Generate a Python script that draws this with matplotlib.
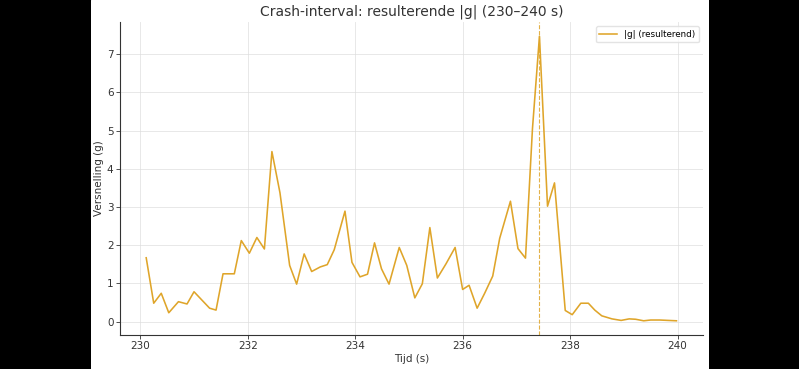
import matplotlib
matplotlib.use('Agg')
import matplotlib.pyplot as plt

# time stamps (s) and resulting acceleration |g|
t = [230.11, 230.25, 230.39, 230.53, 230.71, 230.87, 231.00, 231.29, 231.41, 231.54,
     231.75, 231.88, 232.03, 232.17, 232.31, 232.45, 232.60, 232.78, 232.91, 233.05,
     233.19, 233.35, 233.48, 233.61, 233.81, 233.94, 234.09, 234.23, 234.36, 234.49,
     234.63, 234.82, 234.96, 235.11, 235.25, 235.39, 235.53, 235.69, 235.86, 236.00,
     236.12, 236.27, 236.41, 236.56, 236.69, 236.89, 237.03, 237.17, 237.30, 237.43,
     237.58, 237.71, 237.91, 238.04, 238.20, 238.34, 238.46, 238.59, 238.78, 238.95,
     239.10, 239.22, 239.37, 239.50, 239.67, 239.82, 239.98]
g = [1.67, 0.48, 0.74, 0.23, 0.52, 0.46, 0.78, 0.35, 0.30, 1.25,
     1.25, 2.12, 1.79, 2.20, 1.90, 4.45, 3.37, 1.47, 0.98, 1.77,
     1.31, 1.43, 1.49, 1.88, 2.89, 1.55, 1.17, 1.24, 2.06, 1.38,
     0.98, 1.94, 1.47, 0.62, 0.99, 2.46, 1.14, 1.51, 1.94, 0.84,
     0.95, 0.35, 0.74, 1.19, 2.18, 3.15, 1.91, 1.66, 5.05, 7.47,
     3.02, 3.63, 0.29, 0.18, 0.48, 0.48, 0.30, 0.15, 0.07, 0.03,
     0.07, 0.06, 0.02, 0.04, 0.04, 0.03, 0.02]
t_peak = 237.43

color = '#DFA52A'

fig = plt.figure(figsize=(7.99, 3.69), dpi=100, facecolor='black')
# white canvas in the middle, black bars on the sides
bg = fig.add_axes([91 / 799, 0, 618 / 799, 1], zorder=0)
bg.axis('off')
bg.add_patch(plt.Rectangle((0, 0), 1, 1, transform=bg.transAxes, color='white'))

ax = fig.add_axes([0.1498, 0.0921, 0.7300, 0.8483], zorder=1)
ax.set_facecolor('white')

ax.plot(t, g, color=color, lw=1.15, label='|g| (resulterend)')
ax.axvline(t_peak, color=color, ls='--', lw=0.8, alpha=0.85)

ax.set_title('Crash-interval: resulterende |g| (230–240 s)', fontsize=10, color='#333333', pad=5)
ax.set_xlabel('Tijd (s)', fontsize=7.5, color='#333333', labelpad=2)
ax.set_ylabel('Versnelling (g)', fontsize=7.5, color='#333333', labelpad=2)
ax.tick_params(labelsize=7.5, colors='#333333', length=3, width=0.6, pad=1.5)
ax.grid(True, color='#dddddd', lw=0.6, alpha=0.8)
for s in ['top', 'right']:
    ax.spines[s].set_visible(False)
for s in ['left', 'bottom']:
    ax.spines[s].set_color('#333333')
    ax.spines[s].set_linewidth(0.8)

ax.legend(loc='upper right', fontsize=6.3, frameon=True, edgecolor='#dddddd')

fig.savefig('out.png', dpi=100, facecolor=fig.get_facecolor())
